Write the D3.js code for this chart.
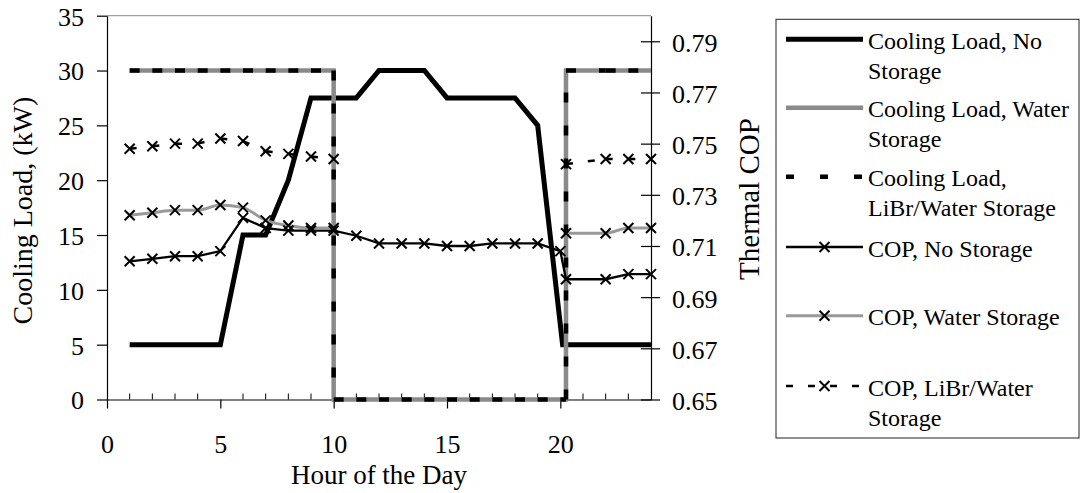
<!DOCTYPE html>
<html>
<head>
<meta charset="utf-8">
<script src="https://cdn.jsdelivr.net/npm/d3@7"></script>
<style>
  body { margin: 0; background: #fff; }
  svg { font-family: "Liberation Serif", "Times New Roman", serif; }
</style>
</head>
<body>
<svg id="chart" width="1081" height="493"></svg>
<script>
// hours used by the load-without-storage series
const loadHours = [1,2,3,4,5,6,7,8,9,10,11,12,13,14,15,16,17,18,19,20.1,21,22,23,24];
const loadNoStorage = [5,5,5,5,5,15,15,20,27.5,27.5,27.5,30,30,30,27.5,27.5,27.5,27.5,25,5,5,5,5,5];

// storage series jump down at 10 h and back up just after 20 h
const storageHours = [1,2,3,4,5,6,7,8,9,10,10,11,12,13,14,15,16,17,18,19,20,20.25,20.25,22,23,24];
const loadWater = [30,30,30,30,30,30,30,30,30,30,0,0,0,0,0,0,0,0,0,0,0,0,30,30,30,30];
const loadLiBr  = [30,30,30,30,30,30,30,30,30,30,0,0,0,0,0,0,0,0,0,0,0,0,30,30,30,30];

// thermal COP (right axis)
const copHours = [1,2,3,4,5,6,7,8,9,10,11,12,13,14,15,16,17,18,19,20,20.25,22,23,24];
const copNoStorage = [0.704,0.705,0.706,0.706,0.708,0.721,0.717,0.716,0.716,0.716,0.714,0.711,0.711,0.711,0.710,0.710,0.711,0.711,0.711,0.708,0.697,0.697,0.699,0.699];
const copWater = [0.722,0.723,0.724,0.724,0.726,0.725,0.720,0.718,0.717,0.717,null,null,null,null,null,null,null,null,null,null,0.715,0.715,0.717,0.717];
const copLiBr  = [0.748,0.749,0.750,0.750,0.752,0.751,0.747,0.746,0.745,0.744,null,null,null,null,null,null,null,null,null,null,0.742,0.744,0.744,0.744];

const xTicks = [0,5,10,15,20];
const yLeftTicks = [0,5,10,15,20,25,30,35];
const yRightTicks = [0.65,0.67,0.69,0.71,0.73,0.75,0.77,0.79];

const legendLabels = [
  ["Cooling Load, No", "Storage"],
  ["Cooling Load, Water", "Storage"],
  ["Cooling Load,", "LiBr/Water Storage"],
  ["COP, No Storage"],
  ["COP, Water Storage"],
  ["COP, LiBr/Water", "Storage"]
];

const svg = d3.select("#chart");
const plotLeft = 107, plotRight = 651, plotTop = 15.7, plotBottom = 399.5;

const x = d3.scaleLinear().domain([0, 24]).range([plotLeft, plotRight]);
const yL = d3.scaleLinear().domain([0, 35]).range([plotBottom, plotTop]);
const yR = d3.scaleLinear().domain([0.65, 0.80]).range([plotBottom, plotTop]);

// top border of plot area
svg.append("line")
  .attr("x1", plotLeft).attr("x2", plotRight).attr("y1", plotTop).attr("y2", plotTop)
  .attr("stroke", "#8a8a8a").attr("stroke-width", 1);

// minor hour ticks (inside)
svg.append("g").selectAll("line")
  .data(d3.range(1, 24).filter(h => h % 5 !== 0))
  .join("line")
  .attr("x1", d => x(d)).attr("x2", d => x(d))
  .attr("y1", plotBottom).attr("y2", plotBottom - 6)
  .attr("stroke", "#000").attr("stroke-width", 1);

// axes
const gx = svg.append("g").attr("transform", `translate(0,${plotBottom})`)
  .call(d3.axisBottom(x).tickValues(xTicks).tickSize(9).tickSizeOuter(0));
gx.selectAll("text").attr("y", 53).attr("dy", null);

const gyl = svg.append("g").attr("transform", `translate(${plotLeft},0)`)
  .call(d3.axisLeft(yL).tickValues(yLeftTicks).tickSize(10).tickPadding(13).tickSizeOuter(0));
gyl.selectAll("text").attr("dy", "0.36em");

const gyr = svg.append("g").attr("transform", `translate(${plotRight},0)`)
  .call(d3.axisRight(yR).tickValues(yRightTicks).tickSize(9).tickPadding(12)
    .tickFormat(d3.format(".2f")).tickSizeOuter(0));
gyr.selectAll(".tick line").attr("x1", -10);
gyr.selectAll("text").attr("dy", "0.38em");

[gx, gyl, gyr].forEach(g => {
  g.attr("font-family", null).attr("font-size", null);
  g.selectAll("path, line").attr("stroke", "#000").attr("stroke-width", 1.2);
  g.selectAll("text").attr("fill", "#000").style("font-size", "26px");
});

// axis titles
svg.append("text")
  .attr("transform", "translate(31.5,210.6) rotate(-90)")
  .attr("text-anchor", "middle").style("font-size", "28px")
  .text("Cooling Load, (kW)");
svg.append("text")
  .attr("transform", "translate(759,199) rotate(-90)")
  .attr("text-anchor", "middle").style("font-size", "29px")
  .text("Thermal COP");
svg.append("text")
  .attr("x", 379).attr("y", 484)
  .attr("text-anchor", "middle").style("font-size", "27px")
  .text("Hour of the Day");

const plot = svg.append("g");

function pts(hours, vals, y) {
  return hours.map((h, i) => vals[i] == null ? null : [x(h), y(vals[i])]);
}

// dashed lines drawn segment by segment so the pattern restarts at every point
function dashedSegments(g, points, dash, color, width) {
  for (let i = 0; i < points.length - 1; i++) {
    const a = points[i], b = points[i + 1];
    if (!a || !b) continue;
    g.append("line")
      .attr("x1", a[0]).attr("y1", a[1]).attr("x2", b[0]).attr("y2", b[1])
      .attr("stroke", color).attr("stroke-width", width)
      .attr("stroke-dasharray", dash);
  }
}

const line = d3.line().defined(d => d != null);

// cooling load, no storage
plot.append("path")
  .attr("d", line(pts(loadHours, loadNoStorage, yL)))
  .attr("fill", "none").attr("stroke", "#000").attr("stroke-width", 5)
  .attr("stroke-linejoin", "miter");

// cooling load, water storage
plot.append("path")
  .attr("d", line(pts(storageHours, loadWater, yL)))
  .attr("fill", "none").attr("stroke", "#8a8a8a").attr("stroke-width", 4.5);

// cooling load, LiBr/water storage
dashedSegments(plot, pts(storageHours, loadLiBr, yL), "10,23", "#000", 4.5);

// COP, no storage
plot.append("path")
  .attr("d", line(pts(copHours, copNoStorage, yR)))
  .attr("fill", "none").attr("stroke", "#000").attr("stroke-width", 2.3);

// COP, water storage
const smooth = d3.line().defined(d => d != null).curve(d3.curveMonotoneX);
plot.append("path")
  .attr("d", smooth(pts(copHours, copWater, yR)))
  .attr("fill", "none").attr("stroke", "#999").attr("stroke-width", 3);

// COP, LiBr/water storage
dashedSegments(plot, pts(copHours, copLiBr, yR), "7,15", "#000", 2.5);

function cross(g, cx, cy) {
  const s = 5;
  g.append("path")
    .attr("d", `M${cx - s},${cy - s}L${cx + s},${cy + s}M${cx - s},${cy + s}L${cx + s},${cy - s}`)
    .attr("stroke", "#000").attr("stroke-width", 2).attr("fill", "none");
}

[copNoStorage, copWater, copLiBr].forEach(vals => {
  pts(copHours, vals, yR).forEach(p => { if (p) cross(plot, p[0], p[1]); });
});

// legend
const lg = svg.append("g");
lg.append("rect")
  .attr("x", 776).attr("y", 19.3).attr("width", 303).attr("height", 418.7)
  .attr("fill", "#fff").attr("stroke", "#222").attr("stroke-width", 1);

const legendY = [39.3, 107.7, 176.7, 247, 315.7, 386];
const lx1 = 786, lx2 = 863, lmid = 824.5;

lg.append("line").attr("x1", lx1).attr("x2", lx2).attr("y1", legendY[0]).attr("y2", legendY[0])
  .attr("stroke", "#000").attr("stroke-width", 5);
lg.append("line").attr("x1", lx1).attr("x2", lx2).attr("y1", legendY[1]).attr("y2", legendY[1])
  .attr("stroke", "#8a8a8a").attr("stroke-width", 4.5);
lg.append("line").attr("x1", lx1).attr("x2", lx2).attr("y1", legendY[2]).attr("y2", legendY[2])
  .attr("stroke", "#000").attr("stroke-width", 4.5).attr("stroke-dasharray", "8,26");
lg.append("line").attr("x1", lx1).attr("x2", lx2).attr("y1", legendY[3]).attr("y2", legendY[3])
  .attr("stroke", "#000").attr("stroke-width", 2.3);
lg.append("line").attr("x1", lx1).attr("x2", lx2).attr("y1", legendY[4]).attr("y2", legendY[4])
  .attr("stroke", "#999").attr("stroke-width", 3);
lg.append("line").attr("x1", lx1).attr("x2", lx2).attr("y1", legendY[5]).attr("y2", legendY[5])
  .attr("stroke", "#000").attr("stroke-width", 2.5).attr("stroke-dasharray", "7,15");
[3, 4, 5].forEach(i => cross(lg, lmid, legendY[i]));

legendLabels.forEach((lines, i) => {
  const t = lg.append("text").attr("x", 868).attr("y", legendY[i] + 9.5)
    .style("font-size", "24px");
  lines.forEach((s, j) => {
    t.append("tspan").attr("x", 868).attr("dy", j === 0 ? 0 : 30).text(s);
  });
});
</script>
</body>
</html>
